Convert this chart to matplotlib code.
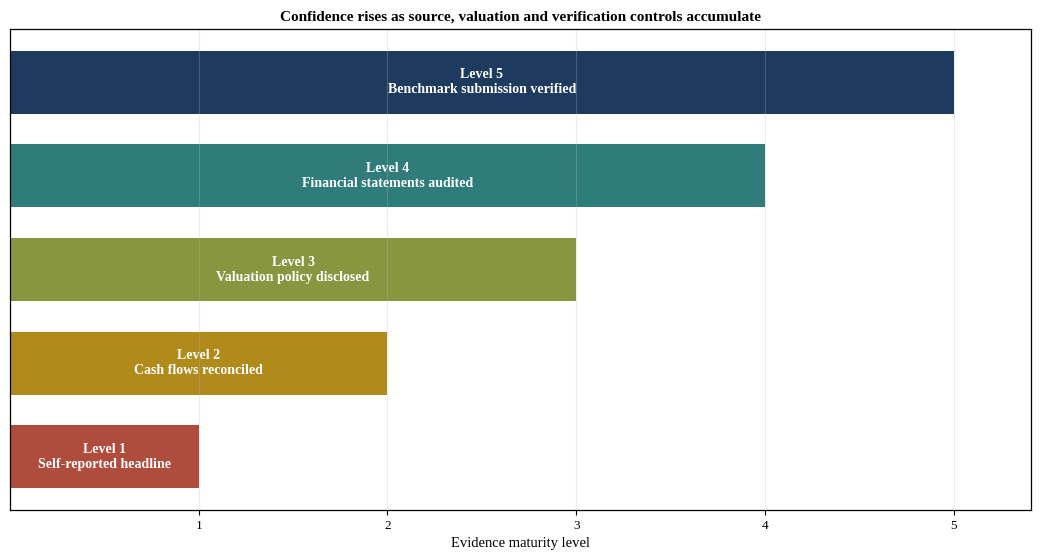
import matplotlib
matplotlib.use("Agg")
import matplotlib.pyplot as plt

plt.rcParams['font.family'] = ['Liberation Serif', 'DejaVu Serif']

levels = [1, 2, 3, 4, 5]
level_names = ["Level 1", "Level 2", "Level 3", "Level 4", "Level 5"]
descriptions = ["Self-reported headline", "Cash flows reconciled",
                "Valuation policy disclosed", "Financial statements audited",
                "Benchmark submission verified"]
colors = ["#b04c3c", "#b08a1a", "#88963f", "#2e7d7a", "#1f3a5f"]
xticks = [1, 2, 3, 4, 5]

fig = plt.figure(figsize=(10.4, 5.6), dpi=100)
ax = fig.add_axes([10/1040, 50/560, 1021/1040, 481/560])

ypos = list(range(len(levels)))
ax.barh(ypos, levels, height=0.67, color=colors, zorder=1)
for y, v, n, d in zip(ypos, levels, level_names, descriptions):
    ax.text(v / 2, y, f"{n}\n{d}", ha='center', va='center', color='white',
            fontsize=10, fontweight='bold', zorder=3, linespacing=1.2)

ax.set_xlim(0, 5.41)
ax.set_ylim(-0.5685, 4.5685)
ax.set_xticks(xticks)
ax.set_xticklabels([str(t) for t in xticks], fontsize=9.5)
ax.set_yticks([])
ax.grid(axis='x', color='#bbbbbb', alpha=0.28, linewidth=0.8, zorder=2)
ax.set_axisbelow(False)
for s in ax.spines.values():
    s.set_linewidth(0.9)
    s.set_zorder(4)
ax.tick_params(axis='x', length=3.5, width=0.8)
ax.set_xlabel("Evidence maturity level", fontsize=10.5, labelpad=4)
ax.set_title("Confidence rises as source, valuation and verification controls accumulate",
             fontsize=11, fontweight='bold', pad=6)

fig.savefig("out.png", dpi=100)
